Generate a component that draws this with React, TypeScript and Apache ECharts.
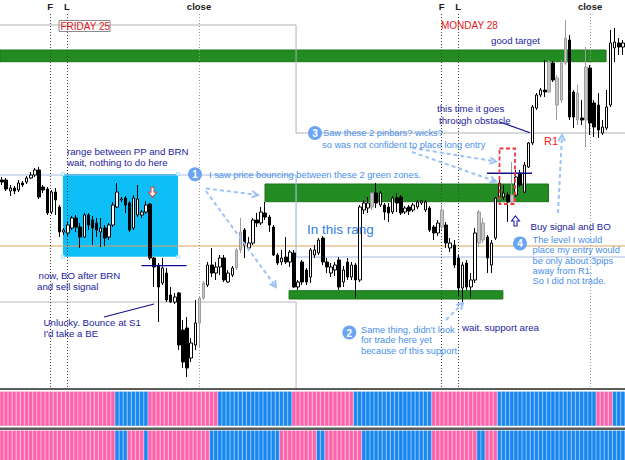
import React, { useEffect, useRef } from 'react';
import * as echarts from 'echarts';

// ---------- data (prices in points) ----------
const N = 152;
const categories = Array.from({ length: N }, (_, i) => 'bar ' + (i + 1));

const opens = [220,220,209,212,210,217,218,222,225,230,213,211,188,208,193,168,167,172,182,173,163,185,180,177,168,172,163,175,193,200,202,197,172,185,185,188,196,142,135,117,127,105,98,107,70,72,42,55,77,102,115,135,127,133,142,118,125,132,150,170,152,157,180,177,187,183,173,145,138,143,138,147,113,138,130,123,145,147,162,138,127,130,140,118,138,123,135,120,190,192,193,207,195,195,193,188,202,203,188,193,190,193,197,190,192,173,167,173,175,152,155,142,112,137,113,120,157,160,163,135,162,203,203,205,198,205,227,208,233,257,292,305,310,308,337,295,300,337,360,308,280,282,280,332,297,295,267,272,295,352,357,353];
const closes = [218,211,212,209,217,215,222,225,230,203,210,187,208,200,168,170,175,182,173,163,185,175,172,170,172,162,175,195,208,201,195,170,202,201,188,195,142,133,113,132,100,98,103,55,38,32,57,77,102,117,135,127,133,142,120,127,132,150,168,155,157,180,177,188,183,175,145,137,142,138,148,113,118,118,118,150,150,160,138,133,133,135,113,130,123,135,120,193,197,197,207,197,207,188,187,202,197,187,192,189,195,198,199,198,170,167,177,190,157,157,135,112,135,113,120,167,188,177,142,157,202,217,207,198,205,223,215,235,257,293,305,310,308,338,320,322,337,362,283,283,307,280,333,277,273,270,273,293,357,358,353,357];
const lows = [215,209,204,206,208,213,216,221,223,201,207,185,186,185,163,165,164,170,168,152,162,170,155,163,153,154,160,173,192,198,187,168,170,183,182,186,140,113,78,115,98,97,96,50,32,23,38,50,53,100,113,123,120,125,118,117,123,130,147,142,150,155,173,175,180,168,144,135,135,136,133,112,110,115,115,117,142,145,135,127,123,124,110,113,120,120,102,118,186,187,190,192,193,180,178,186,188,185,186,185,188,191,195,188,168,160,164,170,152,148,132,104,97,110,102,117,153,157,127,127,160,202,200,178,195,203,213,207,232,255,290,303,303,307,318,280,297,335,280,272,275,275,253,265,263,262,265,270,293,338,345,345];
const highs = [223,222,215,214,220,219,224,228,232,233,215,213,210,212,195,172,178,184,185,177,187,187,184,182,182,175,177,198,217,203,204,199,205,215,190,199,197,143,137,142,132,113,107,108,80,83,62,100,104,119,138,152,138,145,145,130,134,152,182,172,163,182,187,193,198,185,175,147,150,163,150,150,120,140,132,152,155,162,164,142,137,138,143,134,142,138,137,195,200,203,207,217,209,197,197,204,207,205,194,195,197,200,200,200,194,175,180,195,178,162,160,145,138,140,127,172,190,182,165,160,203,222,215,208,238,230,230,238,258,295,307,312,340,340,339,325,340,380,365,310,315,300,353,335,300,307,280,310,370,372,362,360];
// bullish bars drawn in grey on the original chart
const greyBars = [48,49,57,58,90,107,116,117,124,133,135,136,137,140,142];

// daily pivot levels (Friday, Monday); Monday starts at bar index 72
const mondayStart = 72;
const r1Levels = [375, 267];
const ppLevels = [225, 143];
const s1Levels = [98, -60];
const weeklyLevel = 154;

// zones: bar-index span and price band
const greenZones = [
  { from: -0.5, to: 146.9, top: 350, bottom: 338.3 },
  { from: 63.95, to: 132.9, top: 216, bottom: 198.3 },
  { from: 69.8, to: 121.8, top: 109.3, bottom: 101 },
];
const rangeBox = { from: 14.8, to: 42.8, top: 226, bottom: 143.3 };

// session markers (bar position)
const sessionMarks = [
  { name: 'F', at: 11.7, dark: true },
  { name: 'L', at: 15.8, dark: true },
  { name: 'close', at: 47.9, dark: false },
  { name: 'F', at: 106.9, dark: true },
  { name: 'L', at: 110.9, dark: true },
  { name: 'close', at: 143.0, dark: false },
];

// indicator rows: runs of p (pink) / b (blue)
const indicatorRuns1: [string, number][] = [['p',28],['b',8],['p',17],['b',18],['p',15],['b',19],['p',16],['b',24],['p',4],['b',3]];
const indicatorRuns2: [string, number][] = [['p',28],['b',3],['p',4],['b',1],['p',15],['b',17],['p',9],['b',2],['p',9],['b',17],['p',11],['b',2],['p',3],['b',31]];

const expand = (runs: [string, number][]) => {
  const out: string[] = [];
  runs.forEach(([s, n]) => { for (let k = 0; k < n; k++) out.push(s); });
  return out;
};

const FONT = '"Liberation Sans", Arial, sans-serif';
const DB = '#1c1ca0';
const LB = '#4a8fec';
const ARROW = '#9dc3f6';
const CIRCLE = '#6aa4f3';

function arrowEls(x1: number, y1: number, x2: number, y2: number) {
  const a = Math.atan2(y2 - y1, x2 - x1);
  const s = 7;
  return [
    { type: 'line', z: 100, shape: { x1, y1, x2, y2 }, style: { stroke: ARROW, lineWidth: 2, lineDash: [4, 3] } },
    {
      type: 'polyline', z: 100,
      shape: { points: [[x2 - s * Math.cos(a - 0.5), y2 - s * Math.sin(a - 0.5)], [x2, y2], [x2 - s * Math.cos(a + 0.5), y2 - s * Math.sin(a + 0.5)]] },
      style: { stroke: ARROW, lineWidth: 2, fill: 'none' },
    },
  ];
}
function hollowArrow(cx: number, cy: number, dir: number, color: string) {
  // dir = 1 points down, -1 points up
  const pts = [[-1.5, -5], [1.5, -5], [1.5, 0], [4, 0], [0, 5], [-4, 0], [-1.5, 0]].map(([x, y]) => [cx + x, cy + y * dir]);
  return { type: 'polygon', z: 101, shape: { points: pts }, style: { fill: '#ffffff', stroke: color, lineWidth: 1.1 } };
}
function txt(text: string, x: number, y: number, fill: string, size: number, extra: any = {}) {
  return { type: 'text', z: 101, style: { text, x, y, fill, font: `${extra.bold ? 'bold ' : ''}${size}px ${extra.family || FONT}`, verticalAlign: 'middle', align: extra.align || 'left' } };
}
function circ(n: string, x: number, y: number) {
  return [
    { type: 'circle', z: 100, shape: { cx: x, cy: y, r: 7 }, style: { fill: CIRCLE } },
    txt(n, x, y + 0.5, '#ffffff', 10, { bold: true, align: 'center' }),
  ];
}
function seg(x1: number, y1: number, x2: number, y2: number, color: string, w = 1.3) {
  return { type: 'line', z: 100, shape: { x1, y1, x2, y2 }, style: { stroke: color, lineWidth: w } };
}

export default function App() {
  const ref = useRef<HTMLDivElement>(null);
  useEffect(() => {
    const chart = echarts.init(ref.current!, null, { renderer: 'svg', width: 625, height: 460 });

    const candleData = opens.map((o, i) => {
      const item: any = { value: [o, closes[i], lows[i], highs[i]] };
      if (greyBars.includes(i)) item.itemStyle = { color: '#c6c6c6', borderColor: '#9c9c9c' };
      return item;
    });

    const stepLine = (levels: number[]) => [[-0.5, levels[0]], [mondayStart - 0.5, levels[1]], [N - 0.5, levels[1]]];

    const ind1 = expand(indicatorRuns1).map((s, i) => [i, s === 'p' ? 0 : 1]);
    const ind2 = expand(indicatorRuns2).map((s, i) => [i, s === 'p' ? 0 : 1]);

    const renderStripe = (params: any, api: any) => {
      const i = api.value(0);
      const st = api.value(1);
      const p0 = api.coord([i, 1]);
      const p1 = api.coord([i, 0]);
      const w = api.size([1, 0])[0];
      const x = p0[0] - w / 2;
      const solid = st === 0 ? '#fd62aa' : '#1b87ee';
      const light = st === 0 ? '#fca2cd' : '#62b2fb';
      return {
        type: 'group',
        children: [
          { type: 'rect', shape: { x, y: p0[1], width: w, height: p1[1] - p0[1] }, style: { fill: light } },
          { type: 'rect', shape: { x: x + 0.4, y: p0[1], width: w - 1.3, height: p1[1] - p0[1] }, style: { fill: solid } },
        ],
      };
    };

    const markAreaData: any[] = greenZones.map((z) => [
      { coord: [z.from, z.top], itemStyle: { color: '#228b22', borderColor: '#1c741c', borderWidth: 1 } },
      { coord: [z.to, z.bottom] },
    ]);
    markAreaData.unshift([
      { coord: [rangeBox.from, rangeBox.top], itemStyle: { color: '#0ebef6', borderWidth: 0 } },
      { coord: [rangeBox.to, rangeBox.bottom] },
    ]);

    const markLineData = sessionMarks.map((m) => [
      {
        name: m.name,
        coord: [m.at, 10],
        lineStyle: { color: m.dark ? '#3a3a3a' : '#9a9a9a', width: 1, type: [1, 2] },
      },
      { coord: [m.at, 388] },
    ]);

    const graphics: any[] = [
      { type: 'rect', z: 100, shape: { x: 0, y: 388, width: 625, height: 2 }, style: { fill: '#5c5c5c' } },
      { type: 'rect', z: 100, shape: { x: 0, y: 427.6, width: 625, height: 2.4 }, style: { fill: '#5c5c5c' } },
      // range box handles
      ...[[63, 174], [178, 174], [63, 256.7], [178, 256.7]].map(([x, y]) => ({ type: 'rect', z: 100, shape: { x: x - 1.5, y: y - 1.5, width: 3, height: 3 }, style: { fill: '#e8f8ff', stroke: '#7fd6f7', lineWidth: 0.6 } })),
      // day labels
      { type: 'rect', z: 100, shape: { x: 59, y: 20.5, width: 51, height: 11 }, style: { fill: 'none', stroke: '#8c8c8c', lineWidth: 1 } },
      txt('FRIDAY 25', 60.5, 26.3, '#e01818', 10),
      txt('MONDAY 28', 441, 25.3, '#e01818', 10),
      // dark blue notes
      txt('range between PP and BRN', 67, 151, DB, 9.7),
      txt('wait, nothing to do here', 67, 162.5, DB, 9.7),
      txt('now, BO after BRN', 38.5, 275.5, DB, 9.7),
      txt('and sell signal', 37, 286.5, DB, 9.7),
      txt('Unlucky. Bounce at S1', 43.5, 322, DB, 9.7),
      txt("I'd take a BE", 43.5, 333, DB, 9.7),
      txt('good target', 491, 40.3, DB, 9.7),
      txt('this time it goes', 437, 108.5, DB, 9.7),
      txt('through obstacle', 439, 120, DB, 9.7),
      txt('wait. support area', 462, 327, DB, 9.7),
      txt('Buy signal and BO', 530.5, 226.5, DB, 9.7),
      seg(141.5, 265.6, 186.5, 265.6, '#10108c', 1.4),
      seg(487, 173.3, 532, 173.3, '#10108c', 1.4),
      seg(104, 317, 154, 304, '#10108c', 1.2),
      seg(500, 122, 530, 132.7, '#10108c', 1.2),
      hollowArrow(152.5, 192.3, 1, '#d44c4c'),
      hollowArrow(515.5, 221, -1, '#2222a8'),
      txt('R1', 544, 140.5, '#ee1a1a', 11),
      txt('In this rang', 307, 229.5, '#2e7ee6', 13.5),
      // light blue notes
      ...circ('1', 195, 174.3),
      txt('I saw price bouncing between these 2 green zones.', 209, 174.5, LB, 9.3),
      ...circ('3', 315, 133),
      txt('Saw these 2 pinbars? wicks?', 323, 133.3, LB, 9.3),
      txt('so was not confident to place long entry', 322, 144.5, LB, 9.3),
      ...circ('2', 349.3, 332.5),
      txt("Same thing, didn't look", 361, 329.5, LB, 9.3),
      txt('for trade here yet', 361, 340, LB, 9.3),
      txt('because of this support', 361, 350.5, LB, 9.3),
      ...circ('4', 520, 243.4),
      txt('The level I would', 532.5, 240, LB, 9.3),
      txt('place my entry would', 532.5, 250.4, LB, 9.3),
      txt('be only about 3pips', 532.5, 260.7, LB, 9.3),
      txt('away from R1.', 532.5, 270.8, LB, 9.3),
      txt('So I did not trade.', 532.5, 281, LB, 9.3),
      // dashed arrows
      ...arrowEls(206, 188.5, 258, 195),
      ...arrowEls(206, 191, 276, 287),
      ...arrowEls(412, 148, 496, 161.5),
      ...arrowEls(412, 152, 496, 181.5),
      ...arrowEls(446, 320, 463, 303),
      ...arrowEls(558, 213, 562, 135),
      // red dashed box around pinbars
      { type: 'rect', z: 100, shape: { x: 499.5, y: 148.5, width: 15.5, height: 55.5 }, style: { fill: 'none', stroke: '#ee3a3a', lineWidth: 1.8, lineDash: [4, 2.5] } },
    ];

    const option: any = {
      animation: false,
      backgroundColor: '#ffffff',
      grid: [
        { left: 0, top: 0, width: 625, height: 390 },
        { left: 0, top: 391.7, width: 625, height: 34 },
        { left: 0, top: 430.7, width: 625, height: 29.3 },
      ],
      xAxis: [
        { type: 'category', data: categories, gridIndex: 0, boundaryGap: true, show: false },
        { type: 'value', min: -0.5, max: N - 0.5, gridIndex: 0, show: false },
        { type: 'category', data: categories, gridIndex: 1, show: false },
        { type: 'category', data: categories, gridIndex: 2, show: false },
      ],
      yAxis: [
        { type: 'value', min: 10, max: 400, gridIndex: 0, show: false, scale: false },
        { type: 'value', min: 0, max: 1, gridIndex: 1, show: false },
        { type: 'value', min: 0, max: 1, gridIndex: 2, show: false },
      ],
      series: [
        {
          name: 'weekly', type: 'line', xAxisIndex: 1, yAxisIndex: 0, z: 1,
          data: [[-0.5, weeklyLevel], [N - 0.5, weeklyLevel]],
          symbol: 'none', lineStyle: { color: '#d8a35f', width: 1 },
          markArea: { silent: true, data: markAreaData },
          markLine: {
            silent: true, symbol: ['none', 'none'], animation: false,
            label: { show: true, position: 'end', formatter: '{b}', distance: 1, color: '#1a1a1a', fontWeight: 'bold', fontSize: 9.5, fontFamily: FONT },
            data: markLineData,
          },
        },
        { name: 'R1', type: 'line', xAxisIndex: 1, yAxisIndex: 0, z: 2, step: 'end', symbol: 'none', clip: true, data: stepLine(r1Levels), lineStyle: { color: '#b2b2b2', width: 1 } },
        { name: 'PP', type: 'line', xAxisIndex: 1, yAxisIndex: 0, z: 2, step: 'end', symbol: 'none', clip: true, data: stepLine(ppLevels), lineStyle: { color: '#a4b9e2', width: 1.2 } },
        { name: 'S1', type: 'line', xAxisIndex: 1, yAxisIndex: 0, z: 2, step: 'end', symbol: 'none', clip: true, data: stepLine(s1Levels), lineStyle: { color: '#b6b6b6', width: 1 } },
        {
          name: 'price', type: 'candlestick', xAxisIndex: 0, yAxisIndex: 0, z: 5, barWidth: 3,
          itemStyle: { color: '#ffffff', color0: '#000000', borderColor: '#000000', borderColor0: '#000000', borderWidth: 1 },
          data: candleData,
        },
        { name: 'ind1', type: 'custom', xAxisIndex: 2, yAxisIndex: 1, renderItem: renderStripe, data: ind1 },
        { name: 'ind2', type: 'custom', xAxisIndex: 3, yAxisIndex: 2, renderItem: renderStripe, data: ind2 },
      ],
      graphic: graphics,
    };
    chart.setOption(option);
    return () => chart.dispose();
  }, []);
  return <div ref={ref} style={{ position: 'absolute', left: 0, top: 0, width: 625, height: 460, background: '#fff' }} />;
}
